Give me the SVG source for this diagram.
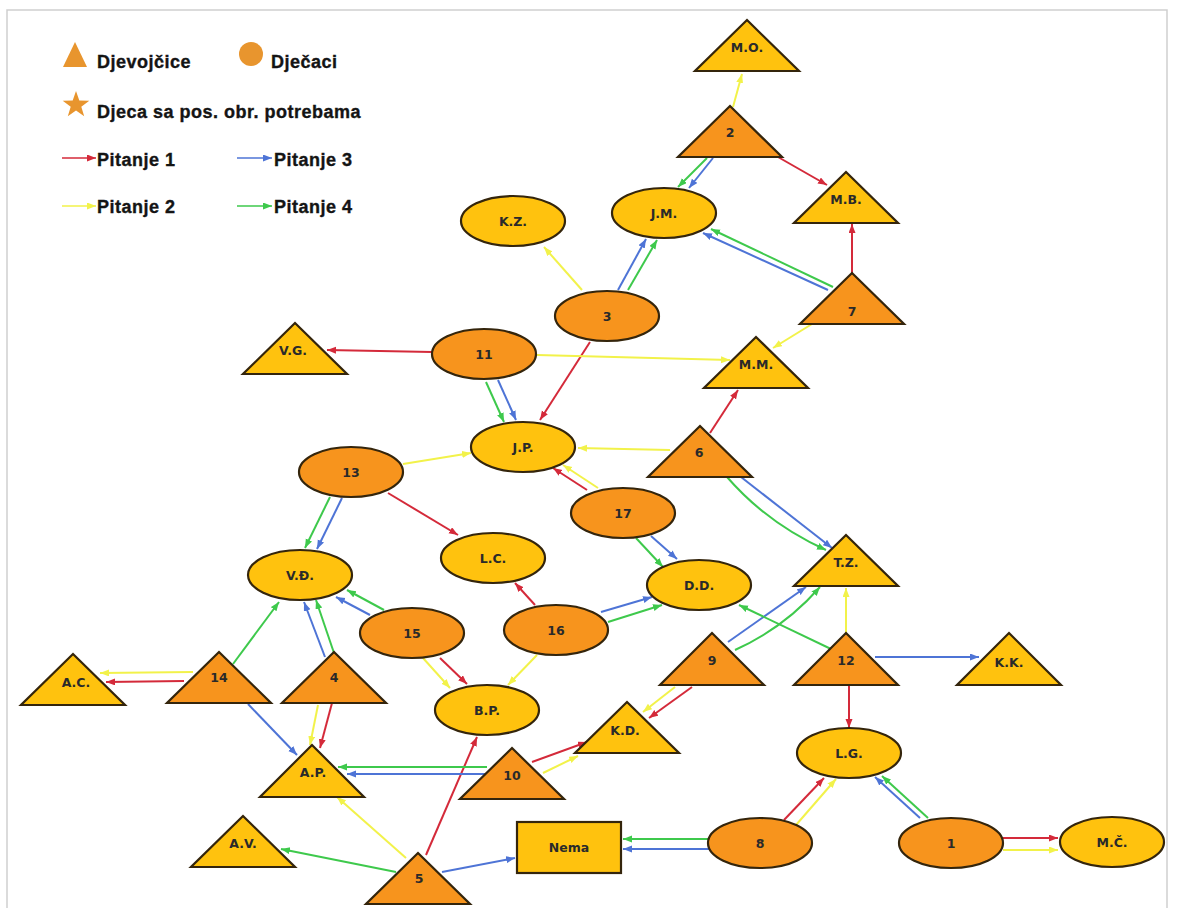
<svg xmlns="http://www.w3.org/2000/svg" width="1177" height="908" viewBox="0 0 1177 908">
<defs>
<style>
.frame{fill:none;stroke:#cfcfcf;stroke-width:1.5}
.leg{font-family:"Liberation Sans",Arial,sans-serif;font-weight:bold;font-size:18px;fill:#141414;stroke:#141414;stroke-width:0.35;letter-spacing:0.5px}
.icon{fill:#E8952E}
.o{fill:#F7941D;stroke:#34250c;stroke-width:2.2}
.y{fill:#FFC20E;stroke:#34250c;stroke-width:2.2}
.lbl{font-family:"DejaVu Sans","Liberation Sans",sans-serif;font-weight:bold;font-size:12.5px;fill:#2a2a2a;text-anchor:middle}
.e{fill:none;stroke-width:2}
.r{stroke:#D42A3A;marker-end:url(#ar)}
.yl{stroke:#F2F24A;marker-end:url(#ay)}
.b{stroke:#4E74D6;marker-end:url(#ab)}
.g{stroke:#3EC94C;marker-end:url(#ag)}
</style>
<marker id="ar" markerUnits="userSpaceOnUse" markerWidth="10" markerHeight="8" refX="9" refY="3.5" orient="auto"><path d="M0,0 L9,3.5 L0,7 z" fill="#D42A3A"/></marker>
<marker id="ay" markerUnits="userSpaceOnUse" markerWidth="10" markerHeight="8" refX="9" refY="3.5" orient="auto"><path d="M0,0 L9,3.5 L0,7 z" fill="#F2F24A"/></marker>
<marker id="ab" markerUnits="userSpaceOnUse" markerWidth="10" markerHeight="8" refX="9" refY="3.5" orient="auto"><path d="M0,0 L9,3.5 L0,7 z" fill="#4E74D6"/></marker>
<marker id="ag" markerUnits="userSpaceOnUse" markerWidth="10" markerHeight="8" refX="9" refY="3.5" orient="auto"><path d="M0,0 L9,3.5 L0,7 z" fill="#3EC94C"/></marker>
</defs>
<rect width="1177" height="908" fill="#ffffff"/>
<path class="frame" d="M7,920 V10 H1167 V920"/>

<g id="legend">
<polygon class="icon" points="75,42 87,67 63,67"/>
<text class="leg" x="97" y="68">Djevojčice</text>
<circle class="icon" cx="251" cy="54" r="12"/>
<text class="leg" x="271" y="68">Dječaci</text>
<polygon class="icon" points="76,91 79.3,100.5 89.3,100.7 81.3,106.7 84.2,116.3 76,110.6 67.8,116.3 70.7,106.7 62.7,100.7 72.7,100.5"/>
<text class="leg" x="97" y="118">Djeca sa pos. obr. potrebama</text>
<line class="e r" x1="62" y1="158" x2="96" y2="158" style="stroke-width:1.5"/>
<text class="leg" x="97" y="166">Pitanje 1</text>
<line class="e b" x1="237" y1="158" x2="272" y2="158" style="stroke-width:1.5"/>
<text class="leg" x="274" y="166">Pitanje 3</text>
<line class="e yl" x1="62" y1="206" x2="96" y2="206" style="stroke-width:1.5"/>
<text class="leg" x="97" y="213">Pitanje 2</text>
<line class="e g" x1="237" y1="206" x2="272" y2="206" style="stroke-width:1.5"/>
<text class="leg" x="274" y="213">Pitanje 4</text>
</g>

<g id="connectors">
<!-- Pitanje 1 (red) -->
<line class="e r" x1="778" y1="157" x2="827" y2="185"/>
<line class="e r" x1="852" y1="290" x2="852" y2="224"/>
<line class="e r" x1="590" y1="342" x2="540" y2="420"/>
<line class="e r" x1="432" y1="352" x2="327" y2="350"/>
<line class="e r" x1="710" y1="433" x2="738" y2="390"/>
<line class="e r" x1="587" y1="490" x2="553" y2="468"/>
<line class="e r" x1="388" y1="493" x2="458" y2="535"/>
<line class="e r" x1="535" y1="605" x2="515" y2="583"/>
<line class="e r" x1="184" y1="681" x2="106" y2="682"/>
<line class="e r" x1="332" y1="703" x2="320" y2="748"/>
<line class="e r" x1="440" y1="658" x2="467" y2="684"/>
<line class="e r" x1="532" y1="762" x2="587" y2="742"/>
<line class="e r" x1="426" y1="855" x2="477" y2="737"/>
<line class="e r" x1="692" y1="687" x2="649" y2="718"/>
<line class="e r" x1="849" y1="685" x2="849" y2="728"/>
<line class="e r" x1="784" y1="820" x2="824" y2="778"/>
<line class="e r" x1="1003" y1="838" x2="1058" y2="838"/>
<!-- Pitanje 2 (yellow) -->
<line class="e yl" x1="733" y1="107" x2="742" y2="74"/>
<line class="e yl" x1="582" y1="290" x2="544" y2="247"/>
<line class="e yl" x1="812" y1="324" x2="773" y2="348"/>
<line class="e yl" x1="537" y1="355" x2="730" y2="360"/>
<line class="e yl" x1="670" y1="450" x2="578" y2="448"/>
<line class="e yl" x1="403" y1="464" x2="471" y2="453"/>
<line class="e yl" x1="598" y1="488" x2="563" y2="465"/>
<line class="e yl" x1="193" y1="672" x2="100" y2="673"/>
<line class="e yl" x1="318" y1="705" x2="310" y2="745"/>
<line class="e yl" x1="423" y1="658" x2="450" y2="688"/>
<line class="e yl" x1="537" y1="655" x2="508" y2="685"/>
<line class="e yl" x1="543" y1="773" x2="578" y2="756"/>
<line class="e yl" x1="406" y1="858" x2="337" y2="797"/>
<line class="e yl" x1="846" y1="633" x2="846" y2="588"/>
<line class="e yl" x1="675" y1="687" x2="643" y2="712"/>
<line class="e yl" x1="796" y1="825" x2="836" y2="779"/>
<line class="e yl" x1="1003" y1="850" x2="1058" y2="850"/>
<!-- Pitanje 3 (blue) -->
<line class="e b" x1="713" y1="158" x2="689" y2="188"/>
<line class="e b" x1="618" y1="290" x2="646" y2="239"/>
<line class="e b" x1="828" y1="290" x2="703" y2="233"/>
<line class="e b" x1="498" y1="380" x2="516" y2="420"/>
<line class="e b" x1="342" y1="498" x2="317" y2="549"/>
<line class="e b" x1="651" y1="536" x2="677" y2="559"/>
<line class="e b" x1="601" y1="612" x2="652" y2="597"/>
<line class="e b" x1="370" y1="615" x2="336" y2="597"/>
<line class="e b" x1="325" y1="657" x2="304" y2="602"/>
<line class="e b" x1="248" y1="704" x2="297" y2="755"/>
<line class="e b" x1="487" y1="774" x2="347" y2="774"/>
<line class="e b" x1="442" y1="872" x2="515" y2="858"/>
<line class="e b" x1="741" y1="477" x2="832" y2="548"/>
<line class="e b" x1="728" y1="642" x2="806" y2="587"/>
<line class="e b" x1="875" y1="657" x2="979" y2="657"/>
<line class="e b" x1="920" y1="818" x2="875" y2="777"/>
<line class="e b" x1="709" y1="849" x2="623" y2="849"/>
<!-- Pitanje 4 (green) -->
<line class="e g" x1="707" y1="158" x2="678" y2="187"/>
<line class="e g" x1="628" y1="290" x2="657" y2="240"/>
<line class="e g" x1="833" y1="287" x2="711" y2="229"/>
<line class="e g" x1="486" y1="382" x2="504" y2="422"/>
<line class="e g" x1="330" y1="497" x2="305" y2="548"/>
<line class="e g" x1="636" y1="538" x2="663" y2="567"/>
<line class="e g" x1="608" y1="622" x2="662" y2="605"/>
<line class="e g" x1="384" y1="610" x2="347" y2="590"/>
<line class="e g" x1="233" y1="664" x2="279" y2="602"/>
<line class="e g" x1="334" y1="653" x2="316" y2="600"/>
<line class="e g" x1="487" y1="767" x2="338" y2="767"/>
<line class="e g" x1="396" y1="872" x2="281" y2="849"/>
<path class="e g" d="M727,477 Q768,524 826,550"/>
<path class="e g" d="M735,650 Q784,628 820,587"/>
<line class="e g" x1="831" y1="649" x2="739" y2="605"/>
<line class="e g" x1="928" y1="818" x2="882" y2="776"/>
<line class="e g" x1="709" y1="839" x2="623" y2="839"/>
</g>

<g id="n-MO"><polygon class="y" points="747,20 799,71 695,71"/><text class="lbl" x="747" y="52">M.O.</text></g>
<g id="n-2"><polygon class="o" points="730,106 782,157 678,157"/><text class="lbl" x="730" y="137">2</text></g>
<g id="n-MB"><polygon class="y" points="846,172 898,223 794,223"/><text class="lbl" x="846" y="204">M.B.</text></g>
<g id="n-7"><polygon class="o" points="852,273 904,324 800,324"/><text class="lbl" x="852" y="316">7</text></g>
<g id="n-MM"><polygon class="y" points="756,337 808,388 704,388"/><text class="lbl" x="756" y="369">M.M.</text></g>
<g id="n-VG"><polygon class="y" points="295,323 347,374 243,374"/><text class="lbl" x="293" y="355">V.G.</text></g>
<g id="n-6"><polygon class="o" points="700,426 752,477 648,477"/><text class="lbl" x="699" y="457">6</text></g>
<g id="n-TZ"><polygon class="y" points="846,535 898,586 794,586"/><text class="lbl" x="846" y="567">T.Z.</text></g>
<g id="n-9"><polygon class="o" points="712,633 764,685 660,685"/><text class="lbl" x="712" y="665">9</text></g>
<g id="n-12"><polygon class="o" points="846,633 898,685 794,685"/><text class="lbl" x="846" y="665">12</text></g>
<g id="n-KK"><polygon class="y" points="1009,633 1061,685 957,685"/><text class="lbl" x="1009" y="667">K.K.</text></g>
<g id="n-AC"><polygon class="y" points="73,654 125,705 21,705"/><text class="lbl" x="76" y="687">A.C.</text></g>
<g id="n-14"><polygon class="o" points="219,652 271,703 167,703"/><text class="lbl" x="219" y="682">14</text></g>
<g id="n-4"><polygon class="o" points="334,652 386,703 282,703"/><text class="lbl" x="334" y="682">4</text></g>
<g id="n-KD"><polygon class="y" points="627,702 679,753 575,753"/><text class="lbl" x="625" y="735">K.D.</text></g>
<g id="n-AP"><polygon class="y" points="312,745 364,797 260,797"/><text class="lbl" x="313" y="777">A.P.</text></g>
<g id="n-10"><polygon class="o" points="512,748 564,799 460,799"/><text class="lbl" x="512" y="780">10</text></g>
<g id="n-AV"><polygon class="y" points="243,816 295,867 191,867"/><text class="lbl" x="243" y="848">A.V.</text></g>
<g id="n-5"><polygon class="o" points="418,853 470,904 366,904"/><text class="lbl" x="419" y="883">5</text></g>

<g id="n-JM"><ellipse class="y" cx="664" cy="213" rx="52" ry="25"/><text class="lbl" x="664" y="218">J.M.</text></g>
<g id="n-KZ"><ellipse class="y" cx="513" cy="221" rx="52" ry="25"/><text class="lbl" x="513" y="226">K.Z.</text></g>
<g id="n-3"><ellipse class="o" cx="607" cy="316" rx="52" ry="25"/><text class="lbl" x="607" y="321">3</text></g>
<g id="n-11"><ellipse class="o" cx="484" cy="354" rx="52" ry="25"/><text class="lbl" x="484" y="359">11</text></g>
<g id="n-JP"><ellipse class="y" cx="523" cy="447" rx="52" ry="25"/><text class="lbl" x="523" y="452">J.P.</text></g>
<g id="n-13"><ellipse class="o" cx="351" cy="472" rx="52" ry="25"/><text class="lbl" x="351" y="477">13</text></g>
<g id="n-17"><ellipse class="o" cx="623" cy="513" rx="52" ry="25"/><text class="lbl" x="623" y="518">17</text></g>
<g id="n-LC"><ellipse class="y" cx="493" cy="558" rx="52" ry="25"/><text class="lbl" x="493" y="563">L.C.</text></g>
<g id="n-VDJ"><ellipse class="y" cx="300" cy="575" rx="52" ry="25"/><text class="lbl" x="300" y="580">V.Đ.</text></g>
<g id="n-DD"><ellipse class="y" cx="699" cy="585" rx="52" ry="25"/><text class="lbl" x="699" y="590">D.D.</text></g>
<g id="n-15"><ellipse class="o" cx="412" cy="633" rx="52" ry="25"/><text class="lbl" x="412" y="638">15</text></g>
<g id="n-16"><ellipse class="o" cx="556" cy="630" rx="52" ry="25"/><text class="lbl" x="556" y="635">16</text></g>
<g id="n-BP"><ellipse class="y" cx="487" cy="710" rx="52" ry="25"/><text class="lbl" x="487" y="715">B.P.</text></g>
<g id="n-LG"><ellipse class="y" cx="849" cy="753" rx="52" ry="25"/><text class="lbl" x="849" y="758">L.G.</text></g>
<g id="n-8"><ellipse class="o" cx="760" cy="843" rx="52" ry="25"/><text class="lbl" x="760" y="848">8</text></g>
<g id="n-1"><ellipse class="o" cx="951" cy="843" rx="52" ry="25"/><text class="lbl" x="951" y="848">1</text></g>
<g id="n-MC"><ellipse class="y" cx="1112" cy="842" rx="52" ry="25"/><text class="lbl" x="1112" y="847">M.Č.</text></g>
<g id="n-Nema"><rect class="y" x="517" y="822" width="104" height="51"/><text class="lbl" x="569" y="852">Nema</text></g>
</svg>
